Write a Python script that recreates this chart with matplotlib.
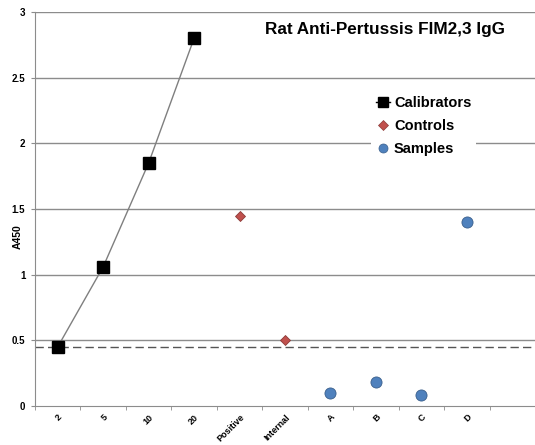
import matplotlib.pyplot as plt
from matplotlib.lines import Line2D

plt.rcParams['font.family'] = ['Liberation Sans', 'DejaVu Sans']

categories = ["2", "5", "10", "20", "Positive", "Internal", "A", "B", "C", "D", ""]
calib_idx = [0, 1, 2, 3]
calib_vals = [0.45, 1.06, 1.85, 2.80]
ctrl_idx = [4, 5]
ctrl_vals = [1.45, 0.50]
sample_idx = [6, 7, 8, 9]
sample_vals = [0.10, 0.18, 0.08, 1.40]
cutoff = 0.447

fig = plt.figure(figsize=(5.35, 4.45), dpi=100)
ax = fig.add_axes([35 / 535, 39 / 445, 500 / 535, 394 / 445])

grid_c = "#8c8c8c"
for y in [0.5, 1, 1.5, 2, 2.5, 3]:
    ax.axhline(y, color=grid_c, lw=1, zorder=1)
ax.axhline(cutoff, color="#555555", lw=1, ls=(0, (6, 3)), zorder=1)

ax.plot(calib_idx, calib_vals, color="#7f7f7f", lw=1, zorder=2)
ax.plot(calib_idx, calib_vals, ls="none", marker="s", ms=9, color="black", zorder=3)
ax.plot(ctrl_idx, ctrl_vals, ls="none", marker="D", ms=5.5, color="#C0504D",
        mec="#8b3a38", mew=0.6, zorder=3)
ax.plot(sample_idx, sample_vals, ls="none", marker="o", ms=8, color="#4F81BD",
        mec="#3a5f8c", mew=0.6, zorder=3)

ax.set_xlim(-0.5, 10.37)
ax.set_ylim(0, 3)
ax.set_yticks([0, 0.5, 1, 1.5, 2, 2.5, 3])
ax.set_yticklabels(["0", "0.5", "1", "1.5", "2", "2.5", "3"], fontsize=7, fontweight="bold")
ax.tick_params(axis="y", length=3, color=grid_c, pad=4)

ax.set_xticks(range(len(categories)))
ax.set_xticklabels(categories, rotation=45, ha="right", rotation_mode="anchor",
                   fontsize=6.5, fontweight="bold")
ax.tick_params(axis="x", which="major", length=0, pad=5)
ax.set_xticks([i - 0.5 for i in range(len(categories) + 1)], minor=True)
ax.tick_params(axis="x", which="minor", length=3, color=grid_c)

for s in ["top", "right"]:
    ax.spines[s].set_visible(False)
ax.spines["left"].set_color(grid_c)
ax.spines["bottom"].set_color(grid_c)

ax.set_ylabel("A450", fontsize=7.5, fontweight="bold")
ax.yaxis.set_label_coords(-0.024, 0.43)

ax.text(0.70, 0.955, "Rat Anti-Pertussis FIM2,3 IgG", transform=ax.transAxes,
        ha="center", va="center", fontsize=12.3, fontweight="bold")

handles = [
    Line2D([], [], color="black", marker="s", ms=6.5, lw=1),
    Line2D([], [], color="#C0504D", marker="D", ms=4.8, ls="none", mec="#8b3a38", mew=0.5),
    Line2D([], [], color="#4F81BD", marker="o", ms=6.5, ls="none", mec="#3a5f8c", mew=0.5),
]
leg = ax.legend(handles, ["Calibrators", "Controls", "Samples"], loc="upper left",
                bbox_to_anchor=(0.664, 0.809), frameon=True, fancybox=False,
                edgecolor="none", facecolor="white", framealpha=1,
                prop={"weight": "bold", "size": 10.5}, handlelength=1.0,
                handletextpad=0.25, labelspacing=0.62, borderpad=0.3,
                borderaxespad=0.3)
leg.set_zorder(4)

fig.savefig("out.png", dpi=100)
plt.close(fig)
